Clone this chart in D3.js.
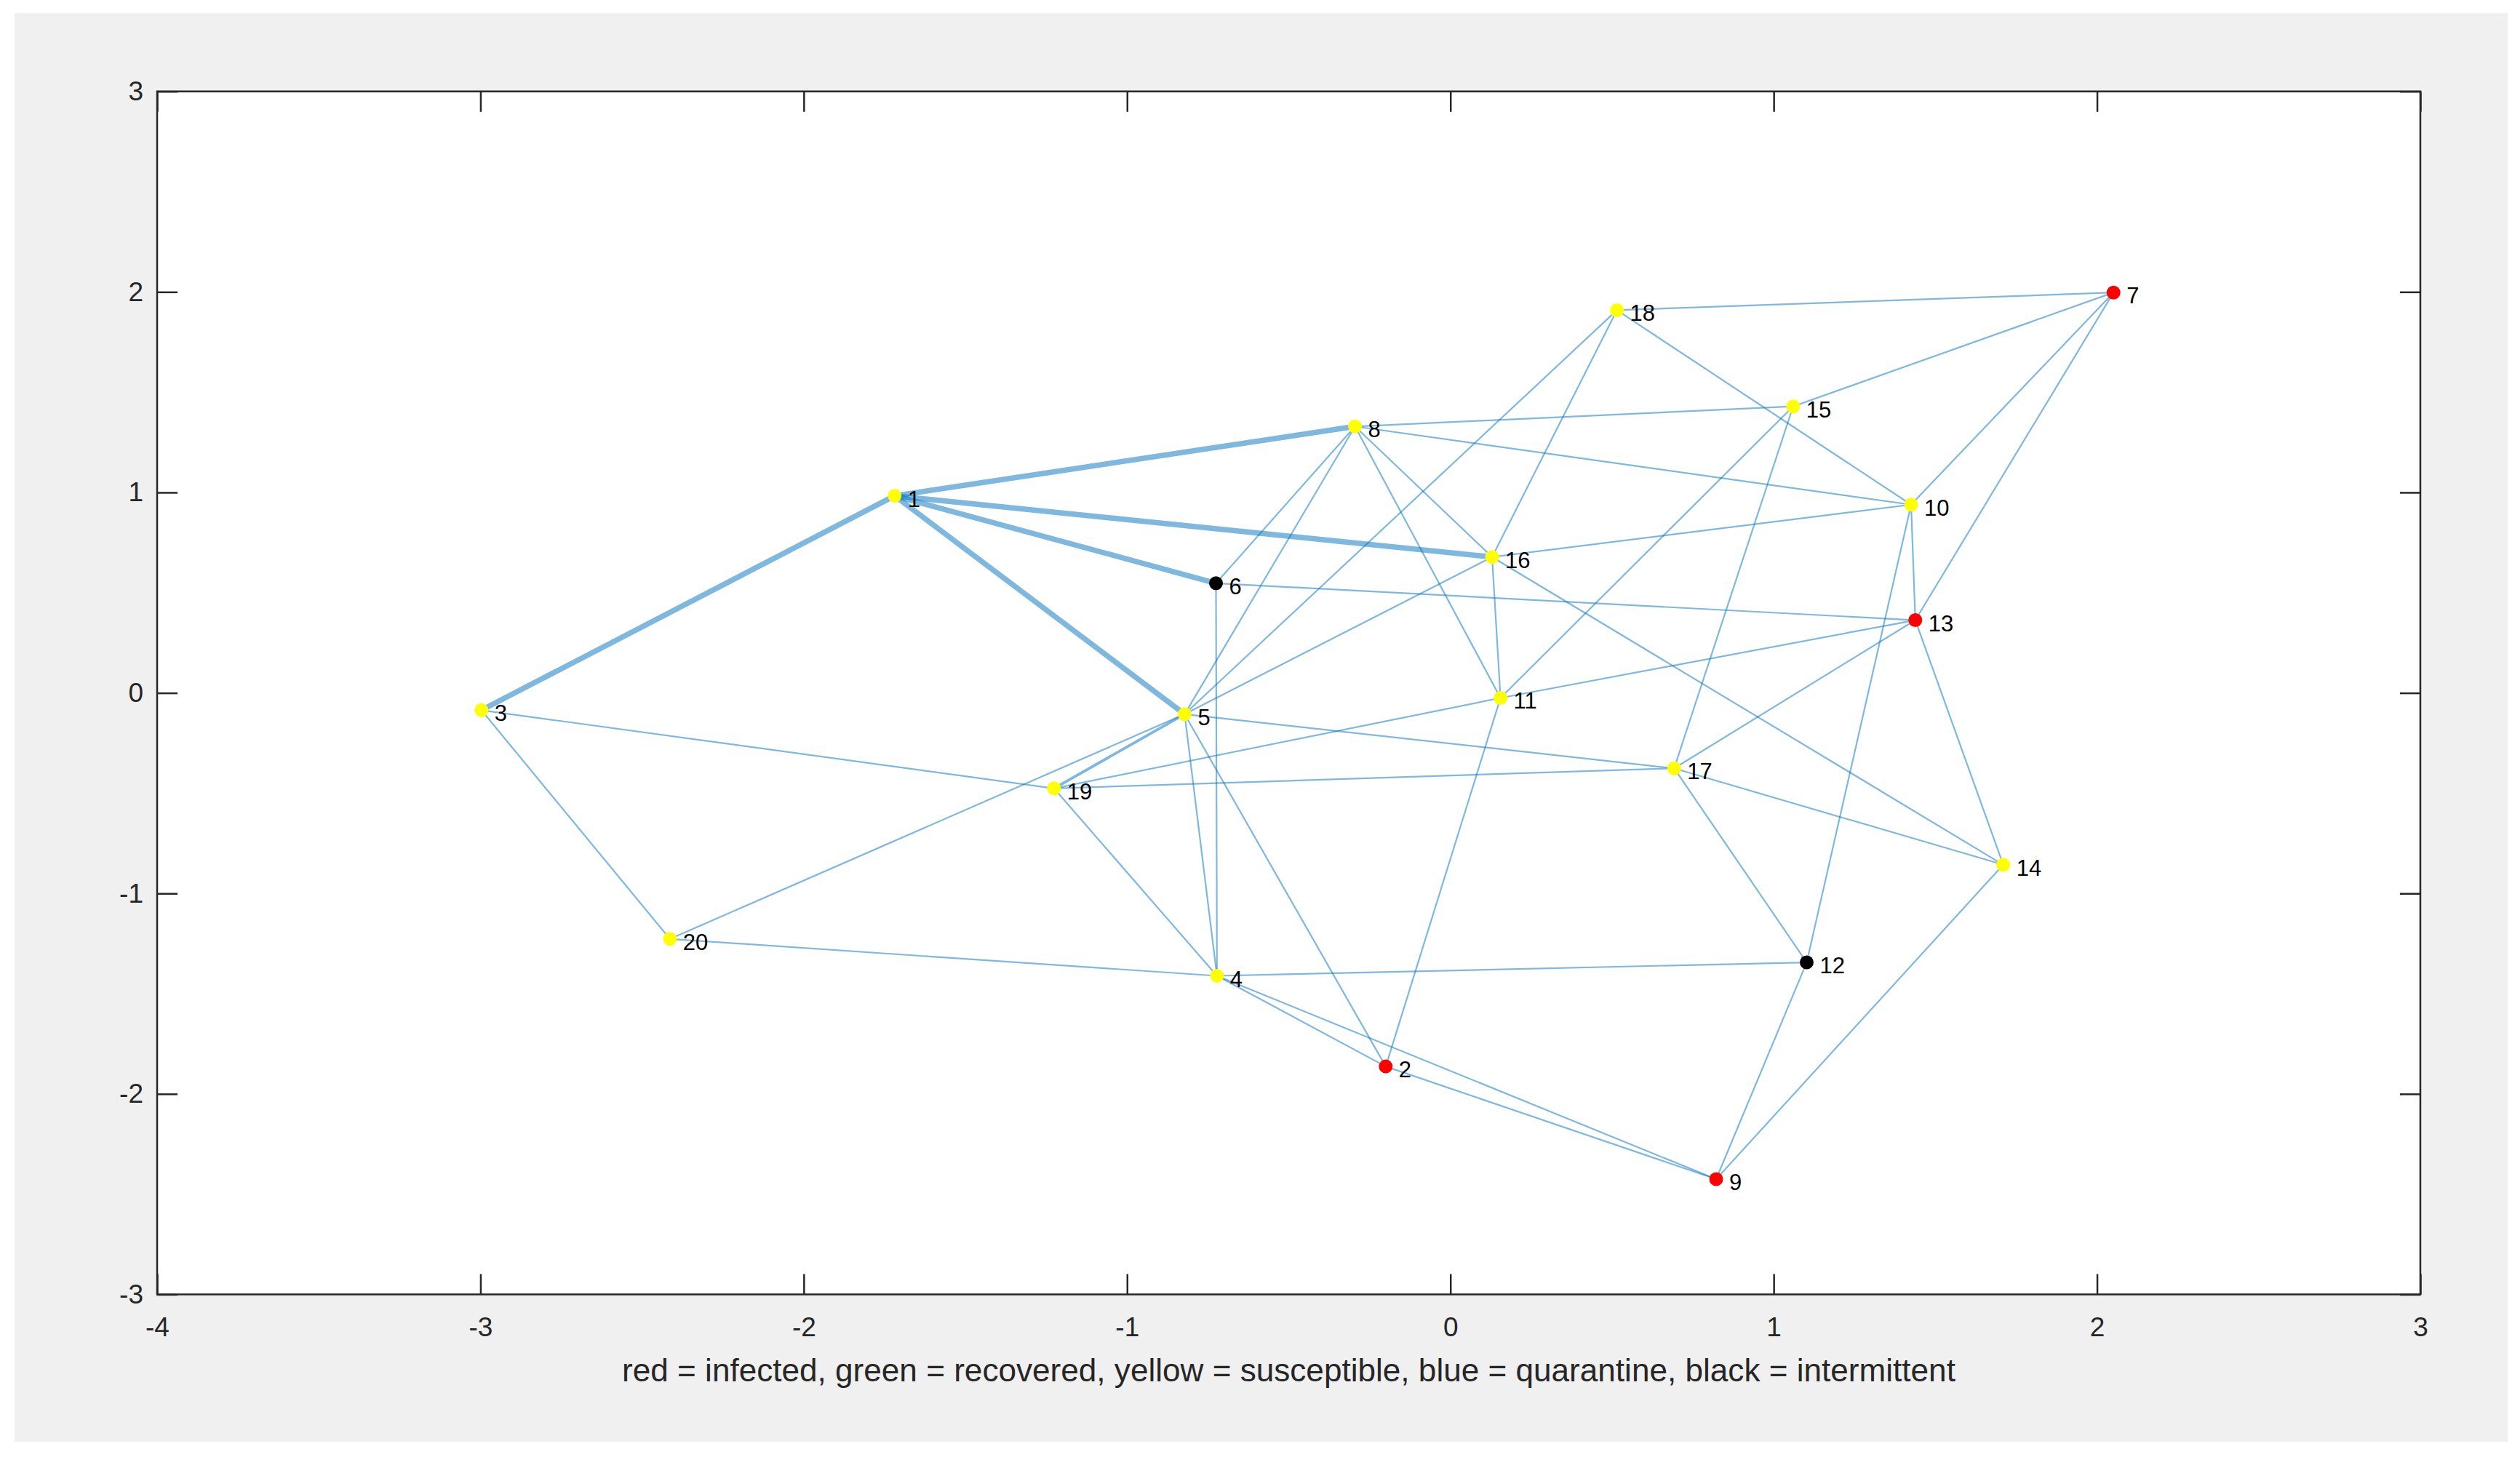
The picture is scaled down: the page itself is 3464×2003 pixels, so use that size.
<!DOCTYPE html>
<html>
<head>
<meta charset="utf-8">
<script src="https://cdn.jsdelivr.net/npm/d3@7"></script>
<style>
  html, body { margin: 0; padding: 0; background: #ffffff; }
  svg { display: block; }
  text { font-family: "Liberation Sans", Arial, Helvetica, sans-serif; }
</style>
</head>
<body>
<script>
// ---------- DATA ----------
const nodeIds = [1,2,3,4,5,6,7,8,9,10,11,12,13,14,15,16,17,18,19,20];
const nodeX = [-1.719,-0.200,-2.997,-0.722,-0.822,-0.725,2.051,-0.295,0.822,1.425,0.155,1.102,1.438,1.710,1.060,0.129,0.692,0.515,-1.226,-2.414];
const nodeY = [0.983,-1.863,-0.086,-1.411,-0.106,0.547,1.997,1.329,-2.425,0.939,-0.025,-1.344,0.363,-0.857,1.429,0.678,-0.376,1.909,-0.476,-1.227];
const nodeState = ["susceptible","infected","susceptible","susceptible","susceptible","intermittent","infected","susceptible","infected","susceptible",
                   "susceptible","intermittent","infected","susceptible","susceptible","susceptible","susceptible","susceptible","susceptible","susceptible"];
const stateNames = ["infected","recovered","susceptible","quarantine","intermittent"];
const stateColors = ["#ff0000","#00ff00","#ffff00","#0000ff","#000000"];
// edges: [source, target, weight]
const edgeSource = [1,1,1,1,1, 2,2,2,2, 3,3, 4,4,4,4,4,4, 5,5,5,5,5,5, 6,6, 7,7,7,7, 8,8,8,8, 9,9, 10,10,10,10, 11,11,11,11, 12, 13,13, 14,14, 15, 16, 17];
const edgeTarget = [3,8,16,6,5, 4,5,9,11, 19,20, 5,6,9,12,19,20, 8,16,17,18,19,20, 8,13, 10,13,15,18, 10,11,15,16, 12,14, 12,13,16,18, 13,15,16,19, 17, 14,17, 16,17, 17, 18, 19];
const edgeWeight = [3,3,3,3,3, 1,1,1,1, 1,1, 1,1,1,1,1,1, 1,1,1,1,1.6,1, 1,1, 1,1,1,1, 1,1,1,1, 1,1, 1,1,1,1, 1,1,1,1, 1, 1,1, 1,1, 1, 1, 1];
const xTicks = [-4,-3,-2,-1,0,1,2,3];
const yTicks = [-3,-2,-1,0,1,2,3];
const caption = "red = infected, green = recovered, yellow = susceptible, blue = quarantine, black = intermittent";

// ---------- LAYOUT ----------
const W = 3464, H = 2003;
const plot = {left: 216, right: 3327, top: 125.7, bottom: 1779.5};
const axisColor = "#262626";

const svg = d3.select("body").append("svg").attr("width", W).attr("height", H);
svg.append("rect").attr("x",0).attr("y",0).attr("width",W).attr("height",H).attr("fill","#ffffff");
svg.append("rect").attr("x",20).attr("y",18).attr("width",3427).attr("height",1964).attr("fill","#f0f0f0");
svg.append("rect").attr("x",plot.left).attr("y",plot.top)
  .attr("width",plot.right-plot.left).attr("height",plot.bottom-plot.top).attr("fill","#ffffff");

const x = d3.scaleLinear().domain([-4,3]).range([plot.left, plot.right]);
const y = d3.scaleLinear().domain([-3,3]).range([plot.bottom, plot.top]);
const wScale = d3.scaleLinear().domain([1,3]).range([2.2,7.4]);
const colorScale = d3.scaleOrdinal().domain(stateNames).range(stateColors);

const nodes = nodeIds.map((id,i) => ({id, x: nodeX[i], y: nodeY[i], state: nodeState[i]}));
const byId = new Map(nodes.map(n => [n.id, n]));
const edges = edgeSource.map((s,i) => ({s: byId.get(s), t: byId.get(edgeTarget[i]), w: edgeWeight[i]}));

// ---------- EDGES ----------
svg.append("g").selectAll("line").data(edges).join("line")
  .attr("x1", d => x(d.s.x)).attr("y1", d => y(d.s.y))
  .attr("x2", d => x(d.t.x)).attr("y2", d => y(d.t.y))
  .attr("stroke", "#0072BD").attr("stroke-opacity", 0.5)
  .attr("stroke-width", d => wScale(d.w)).attr("stroke-linecap","butt");

// ---------- NODES ----------
svg.append("g").selectAll("circle").data(nodes).join("circle")
  .attr("cx", d => x(d.x)).attr("cy", d => y(d.y)).attr("r", 9.5)
  .attr("fill", d => colorScale(d.state));

svg.append("g").selectAll("text").data(nodes).join("text")
  .attr("x", d => x(d.x) + 18).attr("y", d => y(d.y) + 15)
  .attr("font-size", 31).attr("fill", "#000000")
  .text(d => d.id);

// ---------- AXES ----------
const tickLen = 28;
function styleAxis(g, showText) {
  g.selectAll(".domain").remove();
  g.selectAll(".tick line").attr("stroke", axisColor).attr("stroke-width", 2.5);
  g.selectAll(".tick text").attr("fill", axisColor).attr("font-size", 37)
    .attr("font-family", '"Liberation Sans", Arial, Helvetica, sans-serif');
  if (!showText) g.selectAll(".tick text").remove();
}
svg.append("g").attr("transform", `translate(0,${plot.bottom})`)
  .call(d3.axisBottom(x).tickValues(xTicks).tickFormat(d3.format("d")).tickSize(-tickLen).tickPadding(31))
  .call(g => styleAxis(g, true));
svg.append("g").attr("transform", `translate(0,${plot.top})`)
  .call(d3.axisTop(x).tickValues(xTicks).tickSize(-tickLen))
  .call(g => styleAxis(g, false));
svg.append("g").attr("transform", `translate(${plot.left},0)`)
  .call(d3.axisLeft(y).tickValues(yTicks).tickFormat(d3.format("d")).tickSize(-tickLen).tickPadding(19))
  .call(g => styleAxis(g, true));
svg.append("g").attr("transform", `translate(${plot.right},0)`)
  .call(d3.axisRight(y).tickValues(yTicks).tickSize(-tickLen))
  .call(g => styleAxis(g, false));

svg.selectAll(".tick text").text(function() { return d3.select(this).text().replace("\u2212","-"); });

// box
svg.append("rect").attr("x",plot.left).attr("y",plot.top)
  .attr("width",plot.right-plot.left).attr("height",plot.bottom-plot.top)
  .attr("fill","none").attr("stroke",axisColor).attr("stroke-width",2.5);

// ---------- CAPTION ----------
const cap = svg.append("text")
  .attr("x", (plot.left+plot.right)/2).attr("y", 1899)
  .attr("text-anchor","middle").attr("fill", axisColor).attr("font-size", 40)
  .text(caption);
const len = cap.node().getComputedTextLength();
cap.attr("font-size", 40 * 1833 / len);
</script>
</body>
</html>
